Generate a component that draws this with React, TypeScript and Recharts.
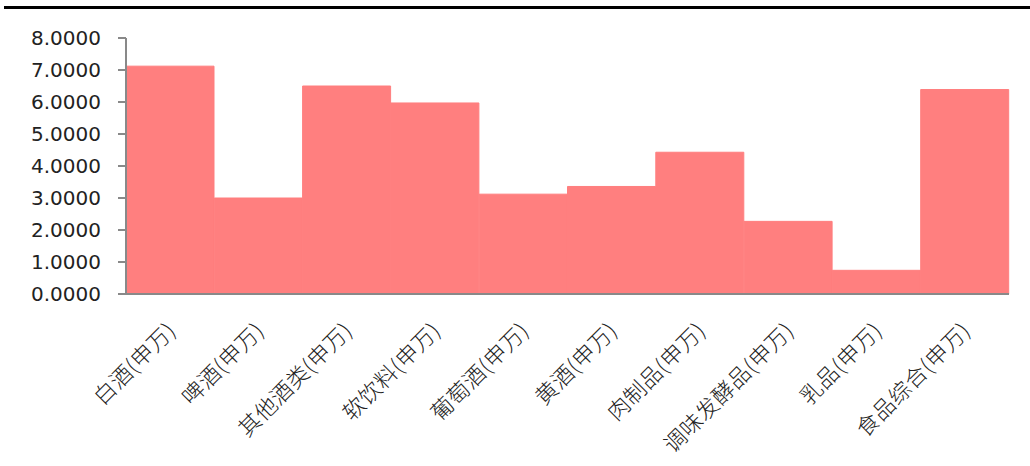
import { BarChart, Bar, XAxis, YAxis } from "recharts";

const categories = [
  "白酒(申万)",
  "啤酒(申万)",
  "其他酒类(申万)",
  "软饮料(申万)",
  "葡萄酒(申万)",
  "黄酒(申万)",
  "肉制品(申万)",
  "调味发酵品(申万)",
  "乳品(申万)",
  "食品综合(申万)",
];
const values = [7.12, 3.0, 6.5, 5.97, 3.12, 3.36, 4.43, 2.27, 0.74, 6.39];
const yTicks = [0, 1, 2, 3, 4, 5, 6, 7, 8];

const data = categories.map((name, i) => ({ name, value: values[i] }));

const AXIS_COLOR = "#898989";

const CategoryTick = ({ x, y, payload }: any) => {
  const ax = x + 7;
  const ay = y + 38;
  return (
    <text
      x={ax}
      y={ay}
      transform={`rotate(-45, ${ax}, ${ay})`}
      textAnchor="end"
      fill="#222"
      fontSize={22}
      letterSpacing={0.5}
      fontWeight={300}
      fontFamily="'Noto Sans CJK SC', sans-serif"
    >
      {payload.value}
    </text>
  );
};

export default function App() {
  return (
    <div style={{ position: "relative", width: 1030, height: 466, background: "#fff" }}>
      <style>{`body{margin:0}`}</style>
      {/* top rule */}
      <div
        style={{
          position: "absolute",
          left: 4,
          top: 6,
          width: 1026,
          height: 3,
          background: "#000",
        }}
      />
      <BarChart
        width={1030}
        height={466}
        data={data}
        barCategoryGap={0}
        margin={{ top: 38, right: 21, left: 0, bottom: 0 }}
      >
        <XAxis
          dataKey="name"
          interval={0}
          height={172}
          tickLine={false}
          tickSize={0}
          tickMargin={0}
          axisLine={{ stroke: AXIS_COLOR, strokeWidth: 2 }}
          tick={<CategoryTick />}
        />
        <YAxis
          domain={[0, 8]}
          ticks={yTicks}
          width={126}
          tickSize={8}
          tickMargin={17}
          tickFormatter={(v: number) => v.toFixed(4)}
          axisLine={{ stroke: AXIS_COLOR, strokeWidth: 2 }}
          tickLine={{ stroke: AXIS_COLOR, strokeWidth: 2 }}
          tick={{ fill: "#222", fontSize: 20, fontFamily: "'DejaVu Sans', sans-serif" }}
        />
        <Bar
          dataKey="value"
          fill="#FF7F7F"
          stroke="#FF7F7F"
          strokeWidth={1}
          isAnimationActive={false}
        />
      </BarChart>
    </div>
  );
}
